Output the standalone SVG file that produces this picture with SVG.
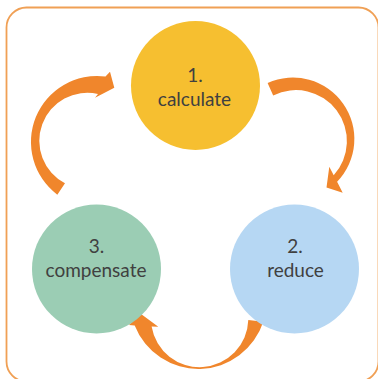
<svg xmlns="http://www.w3.org/2000/svg" width="378" height="379" viewBox="0 0 378 379">
  <style>
    .lbl { font-family: Lato, "Liberation Sans", sans-serif; font-size: 19px; fill: #404040; text-anchor: middle; }
    .arrow { fill: #F0862C; }
  </style>
  <rect x="0" y="0" width="378" height="379" fill="#ffffff"/>
  <rect id="frame" x="6.5" y="7.5" width="372" height="374" rx="20" ry="20" fill="#ffffff" stroke="#F0A055" stroke-width="1.8"/>
  <g id="connectors">
    <path class="arrow" d="M 57.3 194.7 A 66 66 0 0 1 105.5 76.5 L 110 71.7 L 114.3 87.7 L 95 97.7 L 98 94 A 48 48 0 0 0 65 183.3 Z"/>
    <path class="arrow" d="M 267.6 83 A 61.5 61.5 0 0 1 337.1 181.8 L 342.7 192.7 L 326.5 187.5 L 329.3 166.7 L 333.7 175.3 A 51 51 0 0 0 273.2 95.4 Z"/>
    <path class="arrow" d="M 263.3 321.7 A 68.3 68.3 0 0 1 134.7 325.5 L 129 325 L 140 313.3 L 158.3 326.7 L 151.6 326.5 A 48.7 48.7 0 0 0 248.3 320 Z"/>
  </g>
  <g id="calculate">
    <circle cx="195.5" cy="85.5" r="64.5" fill="#F6BF30"/>
    <text class="lbl" x="195" y="81.5">1.</text>
    <text class="lbl" x="194.5" y="106">calculate</text>
  </g>
  <g id="reduce">
    <circle cx="294.5" cy="269" r="64.5" fill="#B6D7F3"/>
    <text class="lbl" x="295" y="253">2.</text>
    <text class="lbl" x="295.5" y="277">reduce</text>
  </g>
  <g id="compensate">
    <circle cx="96.5" cy="269" r="64.5" fill="#9BCDB4"/>
    <text class="lbl" x="96.5" y="253">3.</text>
    <text class="lbl" x="96" y="277">compensate</text>
  </g>
</svg>
